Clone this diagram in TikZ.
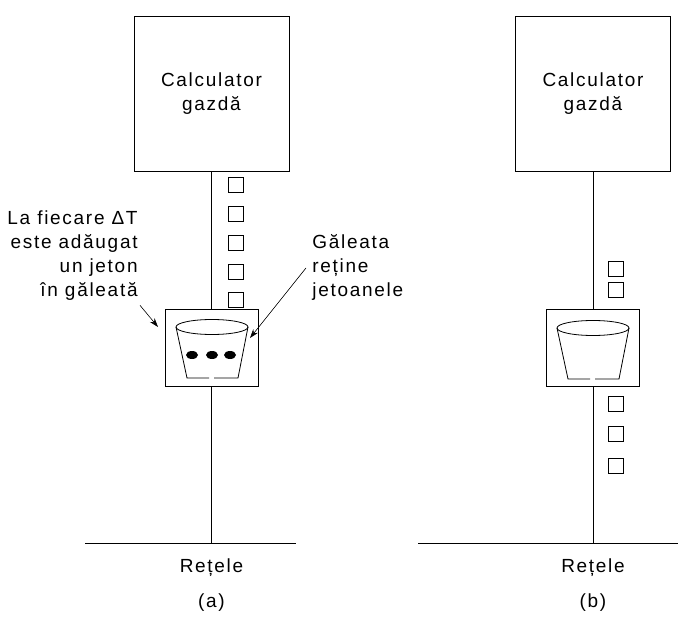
\documentclass[tikz,border=0pt]{standalone}
\usepackage{fontspec}
\setmainfont{Liberation Sans}[LetterSpace=9]
\usetikzlibrary{arrows.meta}

\begin{document}
\begin{tikzpicture}[x=1pt,y=-1pt,
  line width=0.8pt,
  txt/.style={font=\fontsize{19}{24}\selectfont, inner sep=0pt},
  host/.style={draw, minimum width=155pt, minimum height=155pt, inner sep=0pt,
    align=center, font=\fontsize{19}{24}\selectfont},
  tank/.style={draw, minimum width=93pt, minimum height=77pt, inner sep=0pt},
  token/.style={draw, minimum size=15pt, inner sep=0pt},
  ptr/.style={-{Stealth[length=9pt,width=6pt]}, line width=0.6pt},
  bucketpic/.pic={
    \draw (0,0) ellipse [x radius=36pt, y radius=7.5pt];
    \draw (-36,0) -- (-25,51) -- (-3,51);
    \draw (2,51) -- (26,51) -- (36,0);
  },
]
\useasboundingbox[fill=white] (0,0) rectangle (698,617);

% ---------- (a) ----------
\node[host] (hostA) at (211.5,93.5) {Calculator\\gazdă};
\node[tank] (tankA) at (211.5,347.5) {};
\coordinate (busA) at (211.5,543);
\coordinate (netAl) at (85,543);
\coordinate (netAr) at (296,543);
\draw (hostA.south) -- (tankA.north);
\draw (tankA.south) -- (busA);
\draw (netAl) -- (netAr);
\pic at (212,327) {bucketpic};
\foreach \dx in {192,212,230}
  \fill (\dx,355) ellipse [x radius=6pt, y radius=4pt];
\foreach \i/\yy in {1/184.5,2/213.5,3/242.5,4/271.5,5/299.5}
  \node[token] (tokA\i) at (235.5,\yy) {};
% multi-line labels: the base anchor sits on the last line
\node[txt, align=right, anchor=base east] (addA) at (138,297)
  {La fiecare ΔT\\este adăugat\\un jeton\\în găleată};
\node[txt, align=left, anchor=base west] (holdA) at (312,297)
  {Găleata\\reține\\jetoanele};
\coordinate (tipA1) at (158,327);
\coordinate (tipA2) at (250,338);
\draw[ptr] ([shift={(2,4)}]addA.south east) -- (tipA1);
\draw[ptr] ([xshift=-6pt]holdA.west) -- (tipA2);
\node[txt, anchor=base] (netA) at (211.5,572) {Rețele};
\node[txt, anchor=base] (capA) at (211.5,607) {(a)};

% ---------- (b) ----------
\node[host] (hostB) at (593,93.5) {Calculator\\gazdă};
\node[tank] (tankB) at (593,348) {};
\coordinate (busB) at (593,543);
\coordinate (netBl) at (418,543);
\coordinate (netBr) at (678,543);
\draw (hostB.south) -- (tankB.north);
\draw (tankB.south) -- (busB);
\draw (netBl) -- (netBr);
\pic at (593,328) {bucketpic};
\foreach \i/\yy in {1/268.5,2/289.5,3/403.5,4/433.5,5/465.5}
  \node[token] (tokB\i) at (615.5,\yy) {};
\node[txt, anchor=base] (netB) at (593,572) {Rețele};
\node[txt, anchor=base] (capB) at (593,607) {(b)};
\end{tikzpicture}
\end{document}
